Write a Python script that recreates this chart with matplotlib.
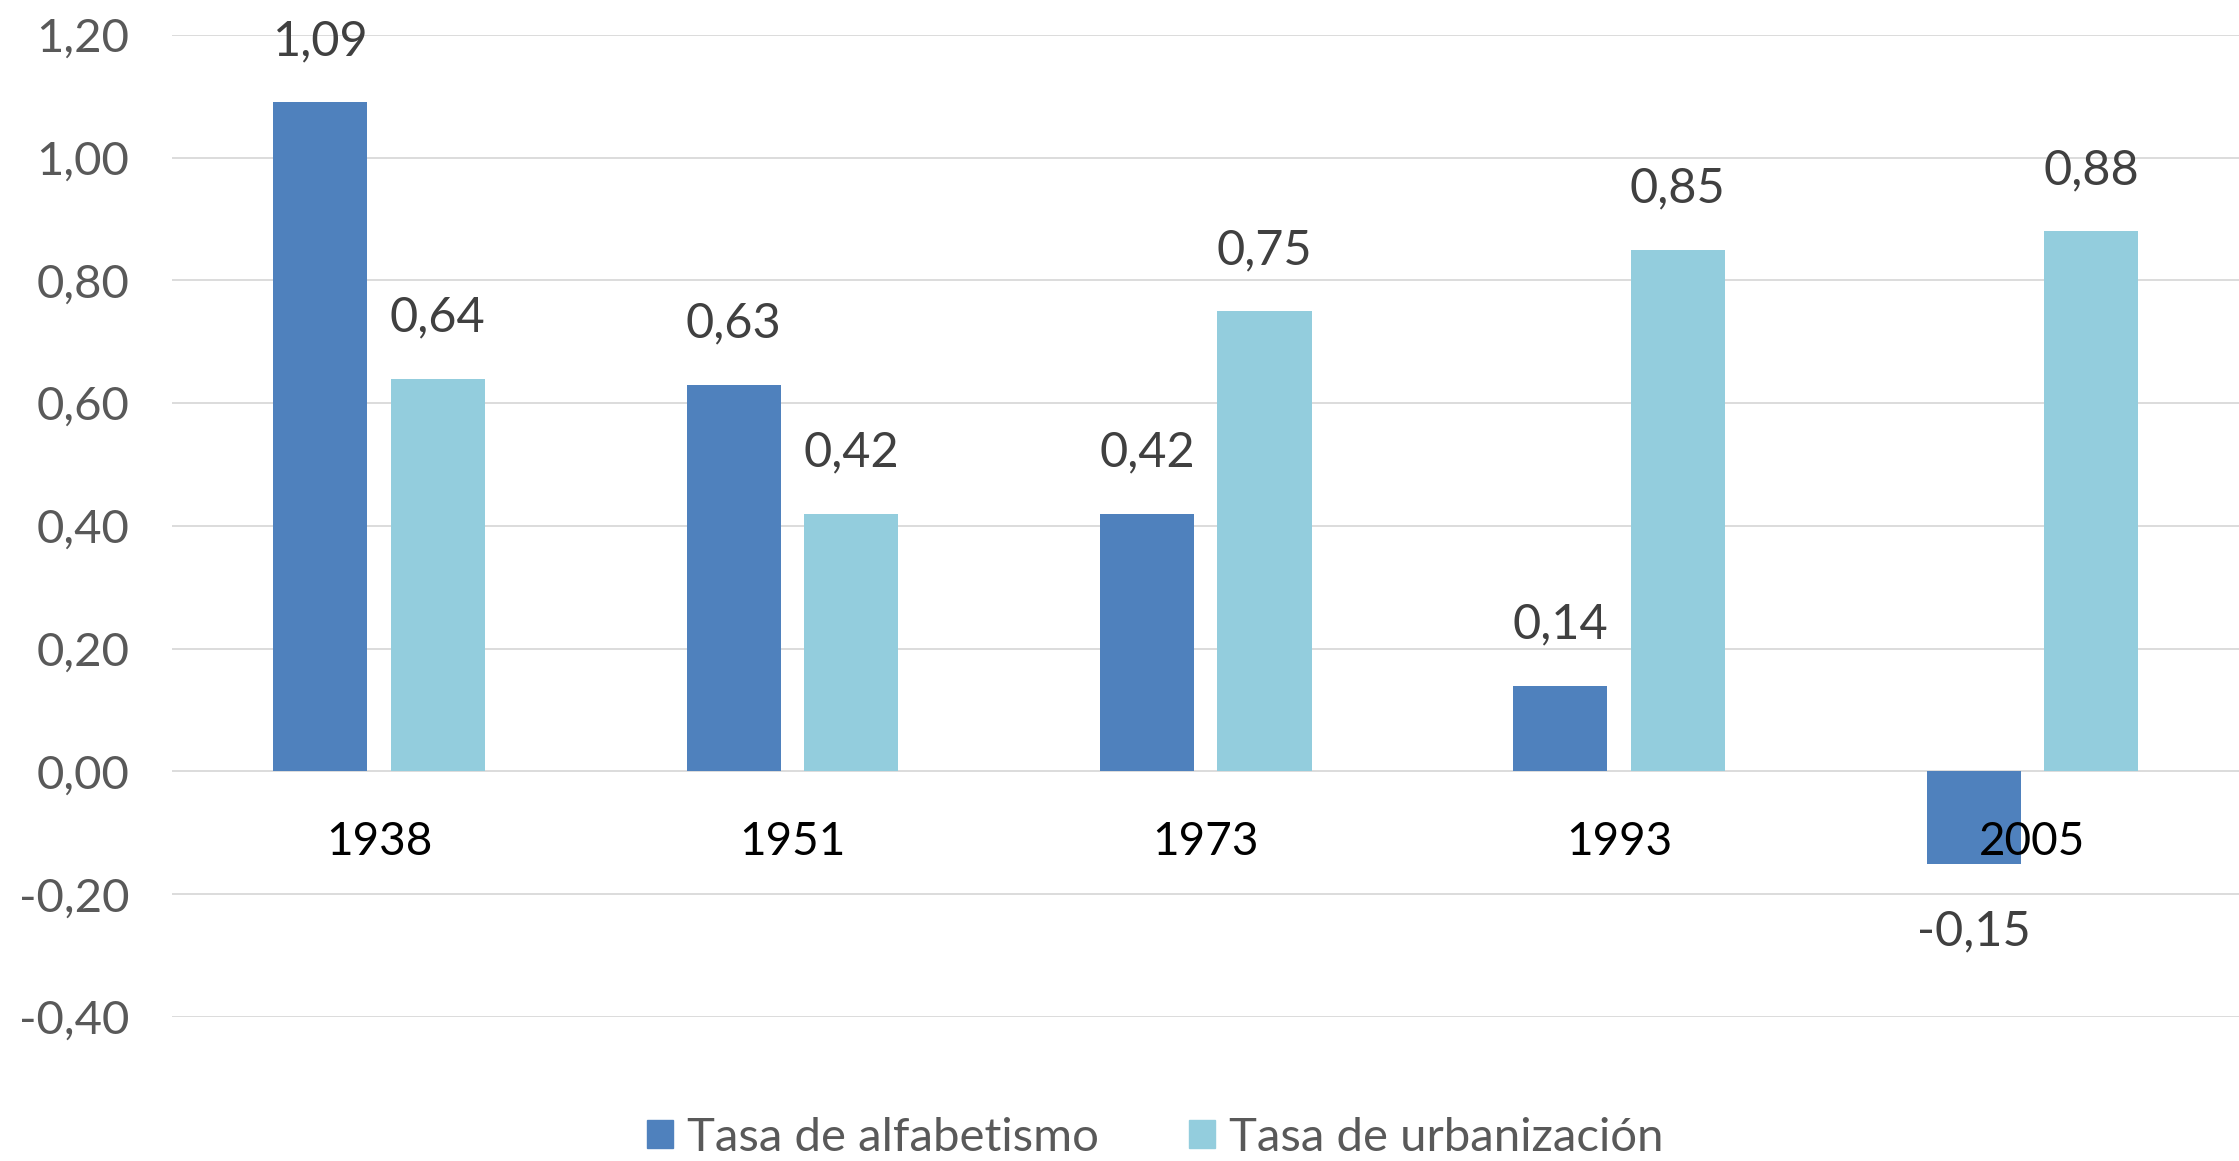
import numpy as np
import matplotlib
matplotlib.use('Agg')
import matplotlib.pyplot as plt
from matplotlib.patches import Patch

years = ['1938', '1951', '1973', '1993', '2005']
alfabetismo = [1.09, 0.63, 0.42, 0.14, -0.15]
urbanizacion = [0.64, 0.42, 0.75, 0.85, 0.88]
alf_labels = ['1,09', '0,63', '0,42', '0,14', '-0,15']
urb_labels = ['0,64', '0,42', '0,75', '0,85', '0,88']
yticks = [-0.4, -0.2, 0.0, 0.2, 0.4, 0.6, 0.8, 1.0, 1.2]
ytick_labels = ['-0,40', '-0,20', '0,00', '0,20', '0,40', '0,60', '0,80', '1,00', '1,20']

c_alf = '#4F81BD'
c_urb = '#93CDDD'

plt.rcParams['font.family'] = ['Lato', 'DejaVu Sans']

fig = plt.figure(figsize=(22.39, 11.61), dpi=100)
ax = fig.add_axes([0.077, 0.124, 0.923, 0.846])

x = np.arange(len(years))
w = 0.228
off = 0.142
b1 = ax.bar(x - off, alfabetismo, w, color=c_alf, zorder=2)
b2 = ax.bar(x + off, urbanizacion, w, color=c_urb, zorder=2)

# data labels
for xi, v, lab in zip(x - off, alfabetismo, alf_labels):
    if v >= 0:
        ax.annotate(lab, (xi, v), xytext=(0, 28), textcoords='offset points',
                    ha='center', va='bottom', fontsize=35, color='#404040')
    else:
        ax.annotate(lab, (xi, v), xytext=(0, -33), textcoords='offset points',
                    ha='center', va='top', fontsize=35, color='#404040')
for xi, v, lab in zip(x + off, urbanizacion, urb_labels):
    ax.annotate(lab, (xi, v), xytext=(0, 28), textcoords='offset points',
                ha='center', va='bottom', fontsize=35, color='#404040')

# category labels next to the zero line
for xi, yr in zip(x, years):
    ax.annotate(yr, (xi, 0), xytext=(0, -51), textcoords='offset points',
                ha='center', va='center', fontsize=33, color='black', zorder=5)

ax.set_xlim(-0.5, 4.5)
ax.set_ylim(-0.4, 1.2)
ax.set_yticks(yticks)
ax.set_yticklabels(ytick_labels, fontsize=34, color='#595959')
ax.set_xticks([])
ax.tick_params(axis='y', length=0, pad=31)
ax.yaxis.grid(True, color='#D9D9D9', linewidth=1.3, zorder=0)
ax.set_axisbelow(True)
for s in ax.spines.values():
    s.set_visible(False)

handles = [Patch(color=c_alf, label='Tasa de alfabetismo'),
           Patch(color=c_urb, label='Tasa de urbanización')]
leg = fig.legend(handles=handles, loc='center', bbox_to_anchor=(0.516, 0.02),
                 ncol=2, frameon=False, fontsize=34, handlelength=0.55,
                 handleheight=0.55, handletextpad=0.3, columnspacing=1.9)
for t in leg.get_texts():
    t.set_color('#595959')

fig.savefig('out.png', dpi=100)
